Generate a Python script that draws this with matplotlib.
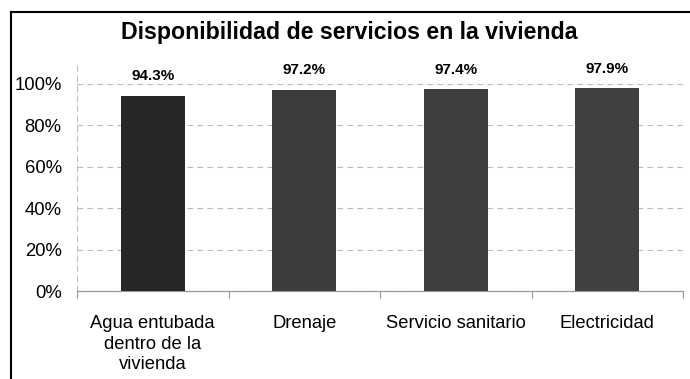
import matplotlib
matplotlib.use("Agg")
import matplotlib.pyplot as plt
from matplotlib.lines import Line2D
from matplotlib.ticker import FixedLocator, PercentFormatter

categories = ["Agua entubada\ndentro de la\nvivienda", "Drenaje", "Servicio sanitario", "Electricidad"]
values = [94.3, 97.2, 97.4, 97.9]
value_labels = ["94.3%", "97.2%", "97.4%", "97.9%"]
yticks = [0, 20, 40, 60, 80, 100]
title = "Disponibilidad de servicios en la vivienda"

FONT = ["Liberation Sans Narrow", "Liberation Sans", "DejaVu Sans"]
plt.rcParams["font.family"] = FONT

fig = plt.figure(figsize=(6.9, 3.79), dpi=100)
fig.patch.set_facecolor("white")
ax = fig.add_axes([77/690, 1-291/379, (683-77)/690, (291-63)/379])

colors = ["#262626", "#3c3c3c", "#3e3e3e", "#404040"]
x = list(range(len(categories)))
bars = ax.bar(x, values, width=0.42, color=colors, zorder=3)

ax.set_xlim(-0.5, len(categories) - 0.5)
ax.set_ylim(0, 110)
ax.yaxis.set_major_locator(FixedLocator(yticks))
ax.yaxis.set_major_formatter(PercentFormatter(decimals=0))
ax.tick_params(axis="y", length=0, pad=11, labelsize=13.3)
ax.set_xticks(x)
ax.set_xticklabels(categories, fontsize=13.2, linespacing=1.3)
ax.tick_params(axis="x", length=0, pad=17)
ax.set_xticks([i + 0.5 for i in range(-1, len(categories))], minor=True)
ax.tick_params(axis="x", which="minor", length=5, color="#999999", width=0.8)

ax.grid(axis="y", color="#bbbbbb", linestyle=(0, (5, 4)), linewidth=0.8, zorder=0)
for s in ["top", "right"]:
    ax.spines[s].set_visible(False)
ax.spines["left"].set_color("#c0c0c0")
ax.spines["left"].set_linestyle((0, (5, 4)))
ax.spines["left"].set_linewidth(0.8)
ax.spines["bottom"].set_color("#999999")
ax.spines["bottom"].set_linewidth(0.9)

for rect, lab in zip(bars, value_labels):
    ax.annotate(lab, (rect.get_x() + rect.get_width()/2, rect.get_height()),
                xytext=(0, 9), textcoords="offset points", ha="center", va="bottom",
                fontsize=11, fontweight="bold")

fig.text(349/690, 1-33/379, title, ha="center", va="center", fontsize=16.7, fontweight="bold")

fig.add_artist(Line2D([11/690, 1.0], [1-12/379, 1-12/379], color="black", linewidth=1.5, transform=fig.transFigure))
fig.add_artist(Line2D([11/690, 11/690], [0.0, 1-12/379], color="black", linewidth=1.5, transform=fig.transFigure))

fig.savefig("out.png", dpi=100)
